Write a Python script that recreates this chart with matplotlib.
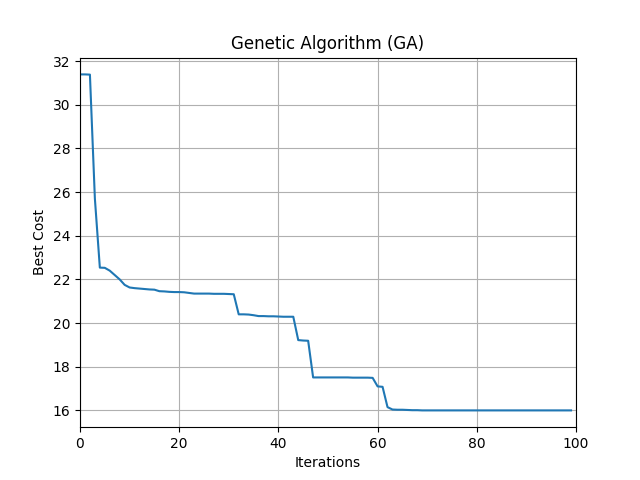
import matplotlib
matplotlib.use("Agg")
import matplotlib.pyplot as plt

best_cost_head = [31.39, 31.39, 31.38, 25.70, 22.54, 22.53, 22.40, 22.20, 22.00, 21.75,
                  21.63, 21.60, 21.58, 21.56, 21.54, 21.53, 21.46, 21.45, 21.43, 21.42,
                  21.42, 21.41, 21.38, 21.35, 21.35, 21.35, 21.35, 21.34, 21.34, 21.34,
                  21.33, 21.32, 20.40, 20.40, 20.39, 20.36, 20.32, 20.32, 20.31, 20.31,
                  20.30, 20.29, 20.29, 20.29, 19.22, 19.20, 19.19, 17.51, 17.51, 17.51,
                  17.51, 17.51, 17.51, 17.51, 17.51, 17.50, 17.50, 17.50, 17.50, 17.49,
                  17.10, 17.08, 16.15, 16.04, 16.03, 16.03, 16.02, 16.01, 16.01, 16.00]
best_cost_tail = [16.00] * 30
best_cost = best_cost_head + best_cost_tail
iterations = list(range(len(best_cost)))

fig, ax = plt.subplots(figsize=(6.4, 4.8), dpi=100)
ax.plot(iterations, best_cost)
ax.set_xlim(0, 100)
ax.set_title("Genetic Algorithm (GA)")
ax.set_xlabel("Iterations")
ax.set_ylabel("Best Cost")
ax.grid(True)
fig.savefig("out.png")
